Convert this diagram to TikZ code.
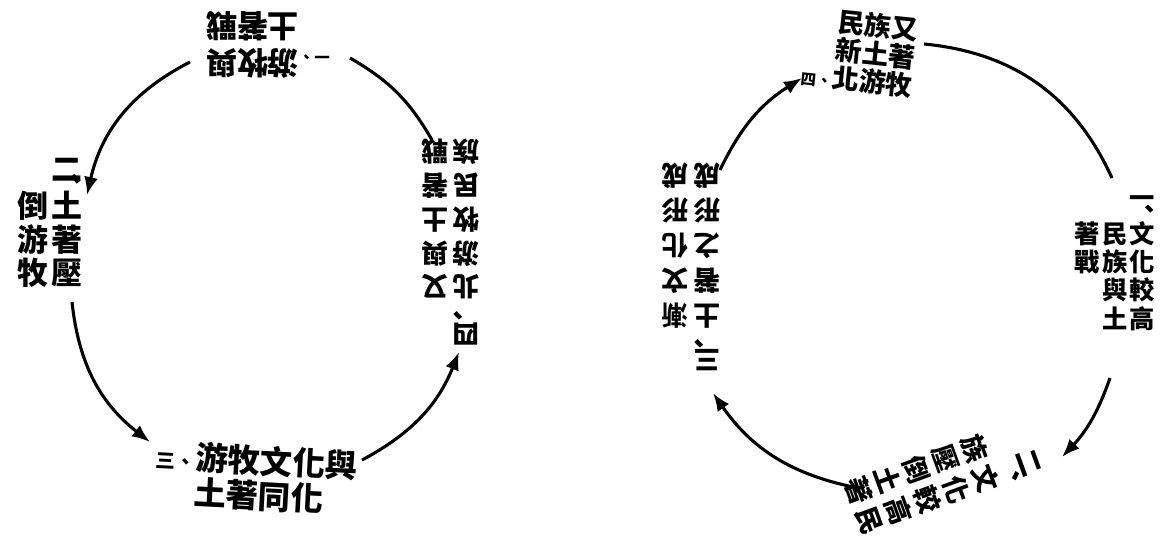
\documentclass[tikz,border=0pt]{standalone}
\usepackage{fontspec}
\usepackage{array}
\usepackage{tikz}
\usetikzlibrary{arrows.meta}
\newfontfamily\cjk{Noto Sans CJK TC}
\newcolumntype{V}{>{\setbox0=\hbox\bgroup}c<{\egroup\smash{\box0}}}
\newcommand{\vcol}[1]{\begin{tabular}[t]{@{}V@{}}#1\end{tabular}}
\newcommand{\hnum}[2][9]{{\fontsize{#1}{#1}\selectfont #2、}}
\tikzset{
	vtext/.style={inner sep=0pt},
	htext/.style={inner sep=0pt, align=left},
	arrow/.style={line width=2.2pt, -{Latex[length=4.5mm, width=3.5mm]}},
	arcline/.style={line width=2.2pt}
}

\begin{document}
\begin{tikzpicture}[x=0.025cm, y=0.025cm]
	\useasboundingbox (0,0) rectangle (1167,-544);

	% left circle
	\node[htext, font=\cjk\bfseries\fontsize{22}{26}\selectfont, rotate=180] (lt) at (268,-45) {\hnum[11]{一}游牧與\\\phantom{\hnum[11]{一}}土著戰};
	\node[vtext, font=\cjk\bfseries\fontsize{22}{24}\selectfont] (ll) at (50,-226) {\vcol{{}\\[-10pt]{}\\[-12pt]倒\\游\\牧}\hspace{2pt}\vcol{二\\[-10pt]︑\\[-12pt]土\\著\\壓}};
	\node[htext, font=\cjk\bfseries\fontsize{23}{25}\selectfont, rotate=-3] (lb) at (256,-478) {\hnum[14]{三}游牧文化與\\\phantom{\hnum[14]{三}}土著同化};
	\node[vtext, font=\cjk\bfseries\fontsize{19}{24}\selectfont, rotate=180] (lr) at (451,-240) {\vcol{四\\[-5pt]︑\\[-9pt]北\\游\\牧\\民\\族}\hspace{3pt}\vcol{{}\\[-5pt]{}\\[-9pt]又\\與\\土\\著\\戰}};

	\coordinate (a1) at (190,-62);
	\coordinate (a2) at (87,-195);
	\coordinate (b1) at (72,-302);
	\coordinate (b2) at (150,-442);
	\coordinate (c1) at (362,-460);
	\coordinate (c2) at (459,-352);
	\coordinate (d1) at (432,-140);
	\coordinate (d2) at (350,-58);

	\draw[arrow] (a1) to[bend right=25] (a2);
	\draw[arrow] (b1) to[bend right=23] (b2);
	\draw[arrow] (c1) to[bend right=20] (c2);
	\draw[arcline] (d1) to[bend right=15] (d2);

	% right circle
	\node[vtext, font=\cjk\bfseries\fontsize{18}{20}\selectfont] (rr) at (1115,-262) {\vcol{{}\\[-6pt]{}\\[-8pt]著\\戰}\hspace{1.5pt}\vcol{{}\\[-6pt]{}\\[-8pt]民\\族\\與\\土}\hspace{1.5pt}\vcol{一\\[-6pt]︑\\[-8pt]文\\化\\較\\高}};
	\node[vtext, font=\cjk\bfseries\fontsize{19}{22}\selectfont, rotate=-70] (rb) at (940,-478) {\vcol{{}\\[-4pt]{}\\[-7pt]族\\壓\\倒\\土\\著}\hspace{4pt}\vcol{二\\[-4pt]︑\\[-7pt]文\\化\\較\\高\\民}};
	\node[vtext, font=\cjk\bfseries\fontsize{19}{25}\selectfont, rotate=180] (rl) at (691,-265) {\vcol{三\\[-7pt]︑\\[-11pt]土\\著\\之\\形\\成}\hspace{4pt}\vcol{{}\\[-7pt]{}\\[-11pt]漸\\文\\化\\形\\成}};
	\node[htext, font=\cjk\bfseries\fontsize{19}{20}\selectfont, rotate=-6] (rt) at (860,-52) {\phantom{\hnum[11]{四}}民族又\\\phantom{\hnum[11]{四}}新土著\\\hnum[11]{四}北游牧};

	\coordinate (e1) at (924,-44);
	\coordinate (e2) at (1112,-178);
	\coordinate (f1) at (1110,-378);
	\coordinate (f2) at (1062,-457);
	\coordinate (g1) at (858,-488);
	\coordinate (g2) at (713,-393);
	\coordinate (h1) at (720,-170);
	\coordinate (h2) at (802,-78);

	\draw[arcline] (e1) to[bend left=30] (e2);
	\draw[arrow] (f1) to[bend left=12] (f2);
	\draw[arrow] (g1) to[bend left=22] (g2);
	\draw[arrow] (h1) to[bend left=16] (h2);
\end{tikzpicture}
\end{document}
